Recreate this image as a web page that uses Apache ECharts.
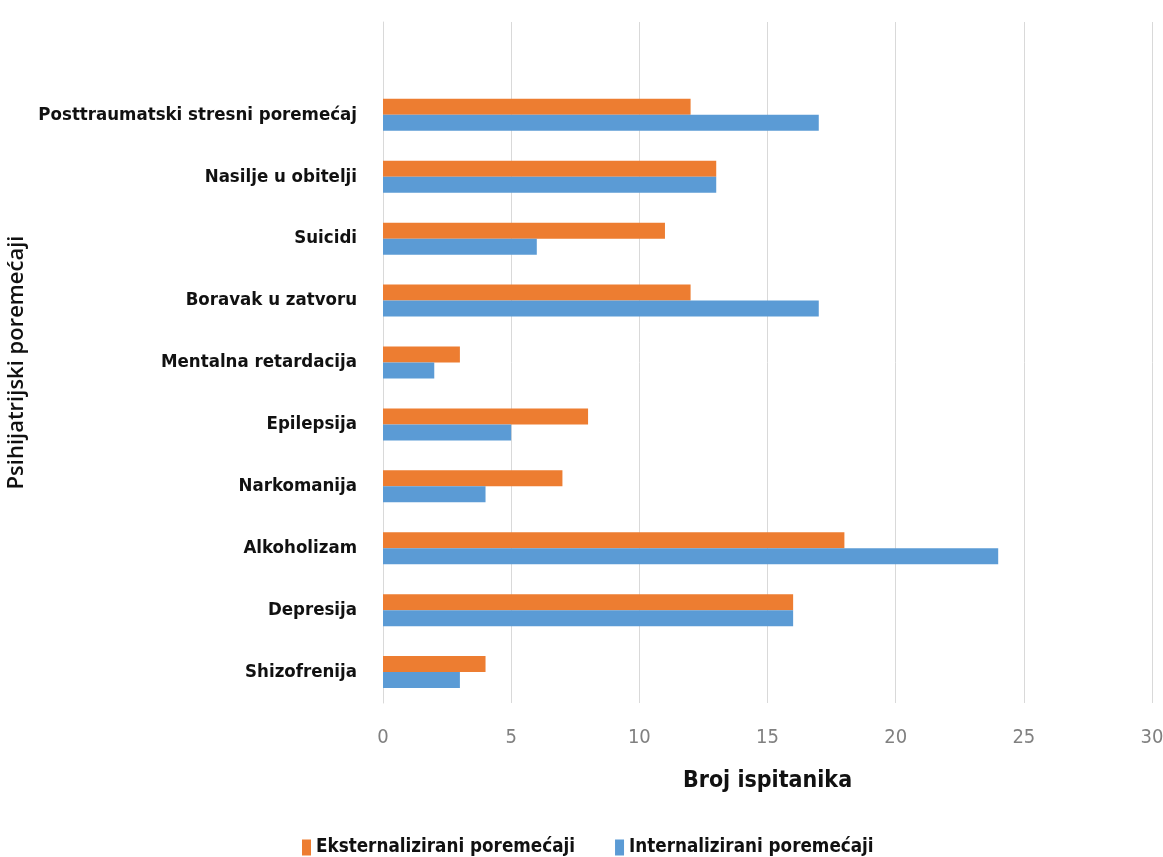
<!DOCTYPE html>
<html>
<head>
<meta charset="utf-8">
<script src="https://cdn.jsdelivr.net/npm/echarts@6/dist/echarts.min.js"></script>
<style>
html,body{margin:0;padding:0;background:#fff;}
#chart{width:1163px;height:857px;}
</style>
</head>
<body>
<div id="chart"></div>
<script>
// Categories listed top to bottom
const categories = [
  'Posttraumatski stresni poremećaj',
  'Nasilje u obitelji',
  'Suicidi',
  'Boravak u zatvoru',
  'Mentalna retardacija',
  'Epilepsija',
  'Narkomanija',
  'Alkoholizam',
  'Depresija',
  'Shizofrenija'
];
const eksternalizirani = [12, 13, 11, 12, 3, 8, 7, 18, 16, 4];
const internalizirani = [17, 13, 6, 17, 2, 5, 4, 24, 16, 3];
const seriesNames = ['Eksternalizirani poremećaji', 'Internalizirani poremećaji'];
const xTicks = { min: 0, max: 30, interval: 5 };
const xTitle = 'Broj ispitanika';
const yTitle = 'Psihijatrijski poremećaji';

const narrow = '"Liberation Sans Narrow", "DejaVu Sans Condensed", sans-serif';

// Excel leaves one empty category slot at the top of the plot area
const yData = [''].concat(categories);
const ext = [null].concat(eksternalizirani);
const int = [null].concat(internalizirani);

const chart = echarts.init(document.getElementById('chart'));
chart.setOption({
  backgroundColor: '#ffffff',
  animation: false,
  grid: { left: 383, right: 11, top: 22, bottom: 154, containLabel: false, outerBoundsMode: 'none' },
  legend: {
    bottom: -5,
    left: 297,
    itemWidth: 9,
    itemHeight: 16,
    itemGap: 40,
    icon: 'rect',
    textStyle: { fontFamily: narrow, fontWeight: 'bold', fontSize: 18.7, color: '#111' },
    data: seriesNames
  },
  xAxis: {
    type: 'value',
    min: xTicks.min, max: xTicks.max, interval: xTicks.interval,
    name: xTitle,
    nameLocation: 'middle',
    nameGap: 67,
    nameTextStyle: { fontFamily: narrow, fontWeight: 'bold', fontSize: 23, color: '#111' },
    axisLine: { show: false },
    axisTick: { show: false },
    axisLabel: { margin: 25, fontFamily: narrow, fontSize: 20, color: '#808080' },
    splitLine: { show: true, lineStyle: { color: '#d9d9d9', width: 1 } }
  },
  yAxis: {
    type: 'category',
    inverse: true,
    data: yData,
    name: yTitle,
    nameLocation: 'middle',
    nameGap: 350,
    nameRotate: 90,
    nameTextStyle: { fontFamily: '"Open Sans", "DejaVu Sans", sans-serif', fontWeight: 600, fontSize: 22, color: '#111' },
    axisLine: { show: true, lineStyle: { color: '#d9d9d9' } },
    axisTick: { show: false },
    axisLabel: { margin: 26, fontFamily: narrow, fontWeight: 'bold', fontSize: 18.5, color: '#111' },
    splitLine: { show: false }
  },
  series: [
    {
      name: seriesNames[0], type: 'bar', data: ext,
      barWidth: 16, barGap: '0%',
      itemStyle: { color: '#ED7D31' }
    },
    {
      name: seriesNames[1], type: 'bar', data: int,
      barWidth: 16, barGap: '0%',
      itemStyle: { color: '#5B9BD5' }
    }
  ]
});
</script>
</body>
</html>
